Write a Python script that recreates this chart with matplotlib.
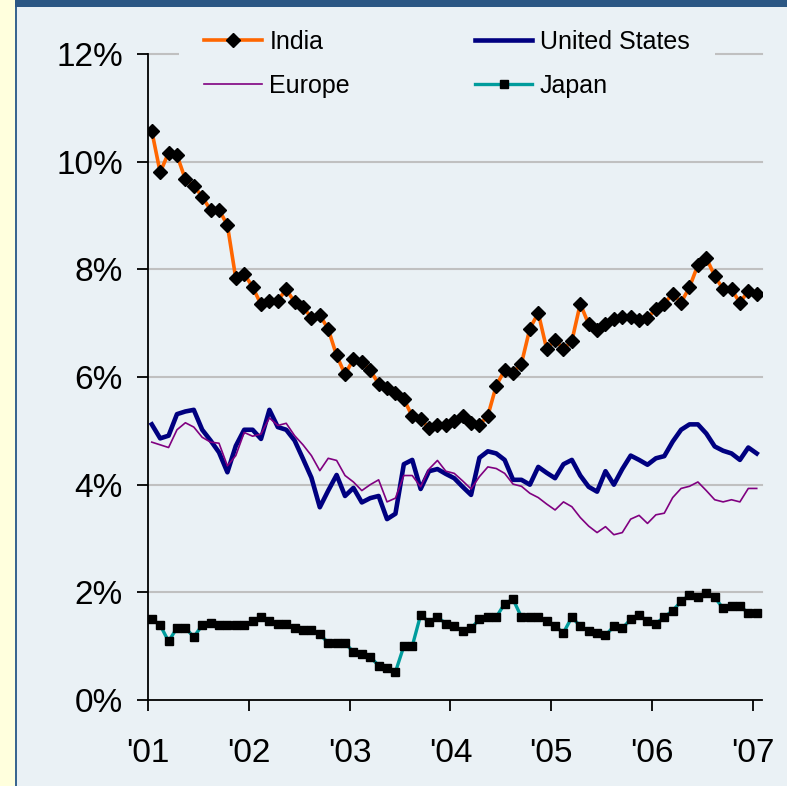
import numpy as np
import matplotlib
matplotlib.use('Agg')
import matplotlib.pyplot as plt
from matplotlib.patches import Rectangle

# monthly series, Jan 2001 .. Jan 2007 (% yoy)
india = [10.57, 9.80, 10.17, 10.12, 9.67, 9.55, 9.35, 9.10, 9.11, 8.82,
         7.83, 7.92, 7.67, 7.35, 7.42, 7.42, 7.63, 7.39, 7.30, 7.10,
         7.15, 6.89, 6.40, 6.05, 6.33, 6.28, 6.13, 5.87, 5.80, 5.71,
         5.59, 5.27, 5.22, 5.05, 5.11, 5.11, 5.18, 5.28, 5.15, 5.11,
         5.28, 5.84, 6.13, 6.08, 6.25, 6.90, 7.19, 6.52, 6.69, 6.52,
         6.67, 7.36, 6.98, 6.88, 6.98, 7.07, 7.11, 7.11, 7.06, 7.10,
         7.26, 7.36, 7.55, 7.38, 7.67, 8.08, 8.21, 7.88, 7.63, 7.63,
         7.38, 7.60, 7.55]
us = [5.12, 4.86, 4.91, 5.31, 5.36, 5.39, 5.02, 4.82, 4.60, 4.23,
      4.72, 5.02, 5.02, 4.85, 5.39, 5.07, 5.02, 4.82, 4.48, 4.13,
      3.58, 3.89, 4.18, 3.79, 3.94, 3.67, 3.75, 3.79, 3.36, 3.46,
      4.38, 4.46, 3.92, 4.25, 4.29, 4.20, 4.12, 3.96, 3.81, 4.50,
      4.62, 4.58, 4.46, 4.09, 4.09, 4.00, 4.33, 4.22, 4.12, 4.38,
      4.46, 4.17, 3.96, 3.87, 4.25, 4.00, 4.29, 4.54, 4.46, 4.37,
      4.49, 4.53, 4.80, 5.02, 5.12, 5.12, 4.95, 4.71, 4.63, 4.58,
      4.46, 4.69, 4.58]
europe = [4.79, 4.74, 4.69, 5.02, 5.15, 5.07, 4.88, 4.79, 4.77, 4.35,
          4.54, 4.97, 4.90, 4.94, 5.24, 5.10, 5.14, 4.91, 4.74, 4.54,
          4.26, 4.49, 4.45, 4.17, 4.05, 3.89, 4.00, 4.09, 3.68, 3.75,
          4.17, 4.17, 3.96, 4.29, 4.45, 4.25, 4.21, 4.07, 3.92, 4.15,
          4.33, 4.30, 4.21, 4.01, 3.97, 3.84, 3.76, 3.64, 3.53, 3.68,
          3.59, 3.39, 3.23, 3.11, 3.22, 3.07, 3.11, 3.36, 3.43, 3.28,
          3.44, 3.47, 3.76, 3.93, 3.97, 4.05, 3.89, 3.72, 3.68, 3.72,
          3.68, 3.93, 3.93]
japan = [1.50, 1.39, 1.09, 1.34, 1.34, 1.17, 1.39, 1.43, 1.39, 1.39,
         1.39, 1.39, 1.46, 1.55, 1.46, 1.42, 1.42, 1.34, 1.30, 1.30,
         1.22, 1.06, 1.06, 1.06, 0.89, 0.85, 0.80, 0.64, 0.60, 0.52,
         1.00, 1.00, 1.58, 1.45, 1.54, 1.42, 1.37, 1.29, 1.33, 1.50,
         1.54, 1.54, 1.79, 1.87, 1.54, 1.54, 1.54, 1.46, 1.37, 1.25,
         1.54, 1.37, 1.29, 1.25, 1.20, 1.37, 1.33, 1.50, 1.58, 1.46,
         1.42, 1.54, 1.66, 1.83, 1.95, 1.91, 1.99, 1.91, 1.70, 1.74,
         1.74, 1.62, 1.62]
years = [2001, 2002, 2003, 2004, 2005, 2006, 2007]
year_labels = ["'01", "'02", "'03", "'04", "'05", "'06", "'07"]

t = 2001 + (np.arange(len(india)) + 0.45) / 12.0

panel = '#EAF1F5'
W, H = 787, 786
fig = plt.figure(figsize=(W / 100, H / 100), dpi=100, facecolor=panel)
plt.rcParams['font.family'] = ['Liberation Sans', 'DejaVu Sans']

# frame decoration
fig.patches.append(Rectangle((0, 0), 15 / W, 1, transform=fig.transFigure,
                             facecolor='#FFFFDD', edgecolor='none', zorder=0))
fig.patches.append(Rectangle((15 / W, 0), 2 / W, 1, transform=fig.transFigure,
                             facecolor='#3A6690', edgecolor='none', zorder=0))
fig.patches.append(Rectangle((15 / W, 1 - 7 / H), 1 - 15 / W, 7 / H, transform=fig.transFigure,
                             facecolor='#2B5784', edgecolor='none', zorder=0))

ax = fig.add_axes([148 / W, 1 - 700 / H, (762 - 148) / W, (700 - 54) / H])
ax.set_facecolor(panel)

l_india, = ax.plot(t, india, color='#FF6600', lw=2.6, marker='D', ms=7,
                   mfc='black', mec='black', label='India', zorder=3)
l_us, = ax.plot(t, us, color='#000080', lw=3.3, label='United States', zorder=3)
l_eu, = ax.plot(t, europe, color='#800080', lw=1.2, label='Europe', zorder=3)
l_jp, = ax.plot(t, japan, color='#009C9C', lw=2.4, marker='s', ms=5.8,
                mfc='black', mec='black', label='Japan', zorder=3)

ax.set_xlim(2001, 2007.09)
ax.set_ylim(0, 12)
ax.set_yticks(np.arange(0, 13, 2))
ax.set_yticklabels([f'{v}%' for v in range(0, 13, 2)])
ax.set_xticks(years)
ax.set_xticklabels(year_labels)

for v in range(2, 13, 2):
    ax.axhline(v, color='#C0C0C0', lw=1.5, zorder=1, clip_on=False)

for s in ['top', 'right']:
    ax.spines[s].set_visible(False)
for s in ['left', 'bottom']:
    ax.spines[s].set_linewidth(1.3)
    ax.spines[s].set_zorder(4)

ax.tick_params(axis='y', direction='out', length=8, width=1.3, pad=10, labelsize=24)
ax.tick_params(axis='x', direction='out', length=8, width=1.3, pad=19, labelsize=24)

leg = ax.legend([l_india, l_eu, l_us, l_jp], ['India', 'Europe', 'United States', 'Japan'],
                ncol=2, loc='center', bbox_to_anchor=(447 / W, 1 - 64 / H),
                bbox_transform=fig.transFigure, frameon=True, fontsize=18,
                handlelength=2.3, labelspacing=0.8, columnspacing=5.0,
                handletextpad=0.3, borderpad=1.0, fancybox=False)
leg.get_frame().set_facecolor(panel)
leg.get_frame().set_edgecolor('none')
leg.get_frame().set_alpha(1)
leg.set_zorder(5)

fig.savefig('out.png', dpi=100, facecolor=panel)
